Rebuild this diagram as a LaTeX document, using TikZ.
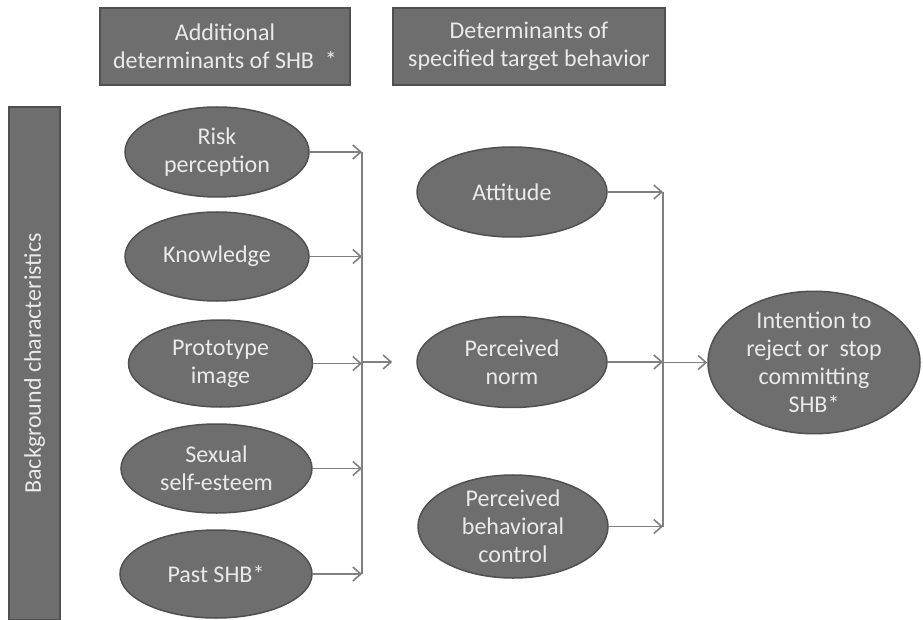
\documentclass[tikz,border=0pt]{standalone}
\usepackage{fontspec}
\setmainfont{Carlito}
\usepackage{xcolor}
\usetikzlibrary{shapes.geometric,arrows.meta}
\definecolor{shapegray}{RGB}{110,110,110}
\definecolor{edgegray}{RGB}{80,80,80}
\definecolor{textgray}{RGB}{234,234,234}
\definecolor{linegray}{RGB}{128,128,128}

\begin{document}
\begin{tikzpicture}[x=1pt,y=-1pt,
    every node/.style={font=\fontsize{24}{28}\selectfont,text=textgray,align=center},
    head/.style={draw=edgegray,line width=1.5pt,fill=shapegray,minimum height=77pt,inner sep=0pt},
    factor/.style={ellipse,draw=edgegray,line width=1.5pt,fill=shapegray,inner sep=0pt,minimum height=89pt},
    line/.style={draw=linegray,line width=1.6pt},
    conn/.style={line,-{Straight Barb[length=8pt,width=14pt,line width=1.6pt]}}]
      \useasboundingbox (0,0) rectangle (923,620);
      % headers and side bar
      \node[head,minimum width=250pt] (addhead) at (225,46.5) {Additional\\determinants of SHB\ \ *};
      \node[head,minimum width=272pt] (dethead) at (529,46.5) {Determinants of\\specified target behavior};
      \node[head,minimum width=513pt,minimum height=51pt,rotate=90] (bg) at (34.5,363.5) {Background characteristics};
      % additional determinants
      \node[factor,minimum width=184pt,minimum height=90pt] (risk) at (217,152) {Risk\\perception};
      \node[factor,minimum width=184pt] (know) at (217,256.5) {Knowledge};
      \node[factor,minimum width=184pt,minimum height=87pt] (proto) at (220.5,363.5) {Prototype\\image};
      \node[factor,minimum width=191pt] (sexual) at (216.5,468.5) {Sexual\\self-esteem};
      \node[factor,minimum width=192pt,minimum height=88pt] (past) at (216,574) {Past SHB*};
      % determinants of target behavior
      \node[factor,minimum width=190pt,minimum height=90pt] (att) at (512,192) {Attitude};
      \node[factor,minimum width=190pt,minimum height=91pt] (norm) at (512,362) {Perceived\\norm};
      \node[factor,minimum width=190pt,minimum height=87pt] (pbc) at (513,526.5) {Perceived\\behavioral\\control};
      \node[factor,minimum width=212pt,minimum height=125pt] (intent) at (814,362.5) {Intention to\\reject or\ \ stop\\committing\\SHB*};
      % connectors
      \coordinate (busL) at (362,0);
      \coordinate (busR) at (663,0);
      \foreach \f in {risk,know,proto,sexual,past}
        \draw[conn] (\f.east) -- (\f.east -| busL);
      \draw[line] (risk.east -| busL) -- (past.east -| busL);
      \draw[conn] (busL |- norm) -- ([xshift=-24pt]norm.west);
      \foreach \f in {att,norm,pbc}
        \draw[conn] (\f.east) -- (\f.east -| busR);
      \draw[line] (att.east -| busR) -- (pbc.east -| busR);
      \draw[conn] (busR |- intent) -- (intent.west);
\end{tikzpicture}
\end{document}
